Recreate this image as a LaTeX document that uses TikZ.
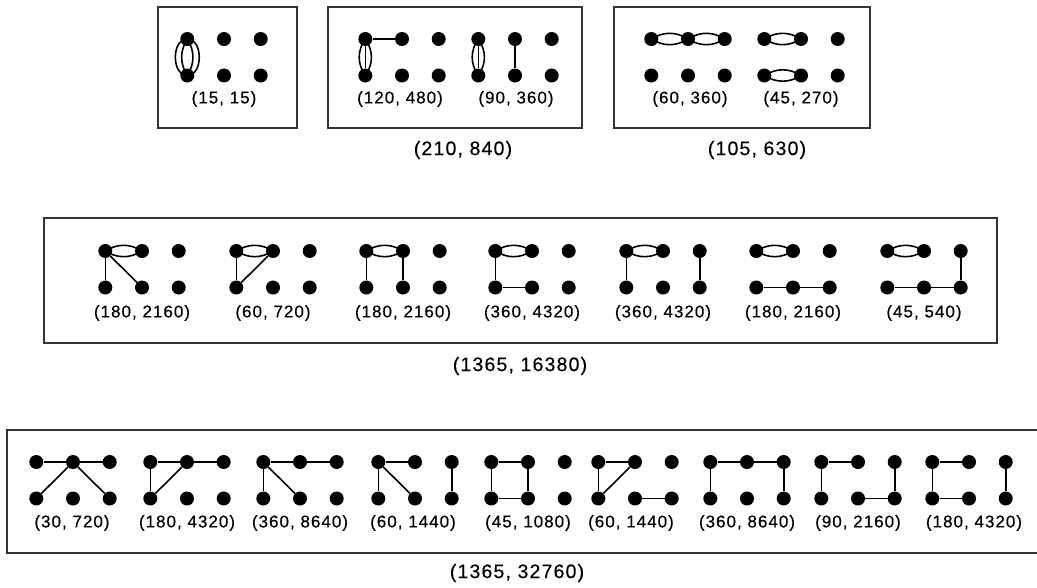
\documentclass[tikz,border=0pt]{standalone}
\usepackage{fontspec}
\setmainfont{Liberation Sans}[LetterSpace=6,FakeBold=0.4]
\begin{document}
\begin{tikzpicture}[x=1pt,y=-1pt,
  dot/.style={circle,fill=black,inner sep=0pt,minimum size=14pt},
  edge/.style={line width=1.6pt,black},
  frame/.style={line width=1.4pt,black!80},
  lab/.style={font=\fontsize{17}{19}\selectfont,inner sep=0pt},
  biglab/.style={font=\fontsize{19.5}{21}\selectfont,inner sep=0pt}]
\useasboundingbox (0,0) rectangle (1037,587);
\clip (0,0) rectangle (1037,587);
\newcommand\gsix[3]{%
  \node[dot] (#1a) at (#2-36.7,#3) {};
  \node[dot] (#1b) at (#2,#3) {};
  \node[dot] (#1c) at (#2+36.7,#3) {};
  \node[dot] (#1d) at (#2-36.7,#3+36.5) {};
  \node[dot] (#1e) at (#2,#3+36.5) {};
  \node[dot] (#1f) at (#2+36.7,#3+36.5) {};}
\newcommand\dbl[2]{%
  \draw[edge] (#1.center) to[bend left=32] (#2.center);
  \draw[edge] (#1.center) to[bend right=32] (#2.center);}
\newcommand\ed[2]{\draw[edge] (#1) -- (#2);}
% ---------- frames ----------
\draw[frame] (158,7) rectangle (297,128);
\draw[frame] (328,7) rectangle (582,128);
\draw[frame] (614,7) rectangle (870,128);
\draw[frame] (44,218) rectangle (997,343);
\draw[frame] (7,430) rectangle (1060,553);
% ---------- top row ----------
\gsix{p}{224}{39}
\draw[edge] (pa.center) to[bend left=90,looseness=1.12] (pd.center);
\draw[edge] (pa.center) to[bend right=90,looseness=1.12] (pd.center);
\draw[edge] (pa.center) to[bend left=32] (pd.center);
\draw[edge] (pa.center) to[bend right=32] (pd.center);
\node[lab] (lp) at (224,99) {(15, 15)};
\gsix{q}{402}{39}
\draw[edge] (qa.center) to[bend left=35] (qd.center);
\draw[edge] (qa.center) to[bend right=35] (qd.center);
\ed{qa}{qd}\ed{qa}{qb}
\node[lab] (lq) at (400,99) {(120, 480)};
\gsix{r}{515}{39}
\draw[edge] (ra.center) to[bend left=35] (rd.center);
\draw[edge] (ra.center) to[bend right=35] (rd.center);
\ed{ra}{rd}\ed{rb}{re}
\node[lab] (lr) at (516,99) {(90, 360)};
\node[biglab] (L1) at (463,150) {(210, 840)};
\gsix{s}{688}{39}
\dbl{sa}{sb}\dbl{sb}{sc}
\node[lab] (ls) at (690,99) {(60, 360)};
\gsix{t}{801}{39}
\dbl{ta}{tb}\dbl{td}{te}
\node[lab] (lt) at (801,99) {(45, 270)};
\node[biglab] (L2) at (757,150) {(105, 630)};
% ---------- middle row ----------
\gsix{ma}{142}{251}
\dbl{maa}{mab}\ed{maa}{mad}\ed{maa}{mae}
\node[lab] (lma) at (142,313) {(180, 2160)};
\gsix{mb}{273}{251}
\dbl{mba}{mbb}\ed{mba}{mbd}\ed{mbb}{mbd}
\node[lab] (lmb) at (273,313) {(60, 720)};
\gsix{mc}{403}{251}
\dbl{mca}{mcb}\ed{mca}{mcd}\ed{mcb}{mce}
\node[lab] (lmc) at (403,313) {(180, 2160)};
\gsix{md}{532}{251}
\dbl{mda}{mdb}\ed{mda}{mdd}\ed{mdd}{mde}
\node[lab] (lmd) at (532,313) {(360, 4320)};
\gsix{me}{663}{251}
\dbl{mea}{meb}\ed{mea}{med}\ed{mec}{mef}
\node[lab] (lme) at (663,313) {(360, 4320)};
\gsix{mf}{793}{251}
\dbl{mfa}{mfb}\ed{mfd}{mfe}\ed{mfe}{mff}
\node[lab] (lmf) at (793,313) {(180, 2160)};
\gsix{mg}{924}{251}
\dbl{mga}{mgb}\ed{mgd}{mge}\ed{mge}{mgf}\ed{mgc}{mgf}
\node[lab] (lmg) at (924,313) {(45, 540)};
\node[biglab] (L3) at (520,366) {(1365, 16380)};
% ---------- bottom row ----------
\gsix{ba}{73}{462}
\ed{baa}{bab}\ed{bab}{bac}\ed{bab}{bad}\ed{bab}{baf}
\node[lab] (lba) at (72,523) {(30, 720)};
\gsix{bb}{187}{462}
\ed{bba}{bbb}\ed{bbb}{bbc}\ed{bba}{bbd}\ed{bbb}{bbd}
\node[lab] (lbb) at (187,523) {(180, 4320)};
\gsix{bc}{300}{462}
\ed{bca}{bcb}\ed{bcb}{bcc}\ed{bca}{bcd}\ed{bca}{bce}
\node[lab] (lbc) at (300,523) {(360, 8640)};
\gsix{bd}{415}{462}
\ed{bda}{bdb}\ed{bda}{bdd}\ed{bda}{bde}\ed{bdc}{bdf}
\node[lab] (lbd) at (413,523) {(60, 1440)};
\gsix{be}{528}{462}
\ed{bea}{beb}\ed{bea}{bed}\ed{bed}{bee}\ed{beb}{bee}
\node[lab] (lbe) at (528,523) {(45, 1080)};
\gsix{bf}{635}{462}
\ed{bfa}{bfb}\ed{bfa}{bfd}\ed{bfb}{bfd}\ed{bfe}{bff}
\node[lab] (lbf) at (631,523) {(60, 1440)};
\gsix{bg}{747}{462}
\ed{bga}{bgb}\ed{bgb}{bgc}\ed{bga}{bgd}\ed{bgc}{bgf}
\node[lab] (lbg) at (747,523) {(360, 8640)};
\gsix{bh}{858}{462}
\ed{bha}{bhb}\ed{bha}{bhd}\ed{bhe}{bhf}\ed{bhc}{bhf}
\node[lab] (lbh) at (858,523) {(90, 2160)};
\gsix{bi}{969}{462}
\ed{bia}{bib}\ed{bia}{bid}\ed{bid}{bie}\ed{bic}{bif}
\node[lab] (lbi) at (974,523) {(180, 4320)};
\node[biglab] (L4) at (517,573) {(1365, 32760)};
\end{tikzpicture}
\end{document}
